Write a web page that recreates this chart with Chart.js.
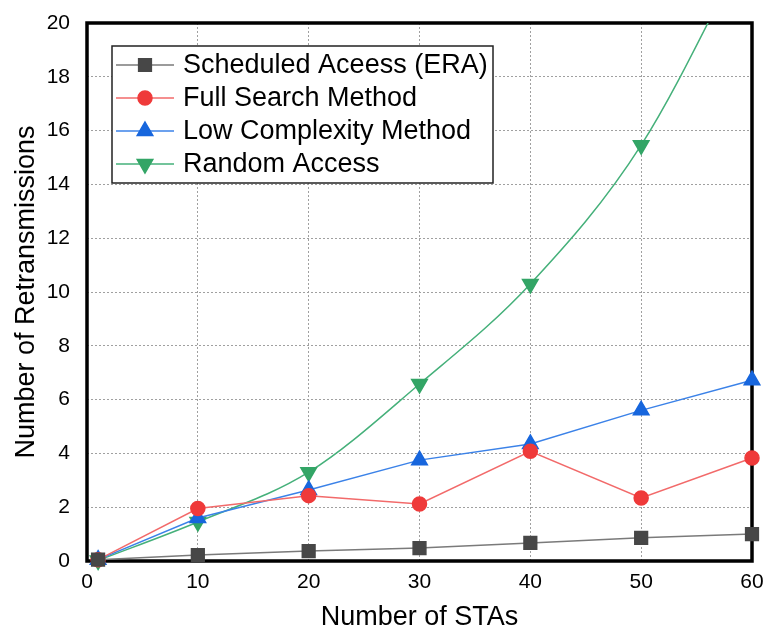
<!DOCTYPE html>
<html>
<head>
<meta charset="utf-8">
<script src="https://cdn.jsdelivr.net/npm/chart.js@4"></script>
<style>
  html, body { margin: 0; padding: 0; background: #fff; }
  #wrap { width: 767px; height: 635px; }
</style>
</head>
<body>
<div id="wrap"><canvas id="retxChart" width="767" height="635"></canvas></div>
<script>
const stas = [1, 10, 20, 30, 40, 50, 60];
const scheduled = [0.05, 0.22, 0.37, 0.48, 0.67, 0.86, 1.0];
const fullSearch = [0.05, 1.95, 2.43, 2.12, 4.08, 2.34, 3.83];
const lowComplexity = [0.05, 1.6, 2.64, 3.75, 4.35, 5.6, 6.72];
const randomAccess = [0.02, 1.45, 3.3, 6.58, 10.3, 15.46, 23.2];
const xTicks = [0, 10, 20, 30, 40, 50, 60];
const yTicks = [0, 2, 4, 6, 8, 10, 12, 14, 16, 18, 20];

const FONT = "'Liberation Sans', Arial, sans-serif";

function pts(values) {
    return stas.map((x, i) => ({ x: x, y: values[i] }));
}

const clipBox = { left: 14, right: 14, top: 0, bottom: 14 };

// border box drawn under the marks, legend drawn on top
const framePlugin = {
    id: "frame",
    beforeDatasetsDraw(chart) {
        const a = chart.chartArea;
        const ctx = chart.ctx;
        ctx.save();
        ctx.strokeStyle = "#000";
        ctx.lineWidth = 3.5;
        ctx.strokeRect(a.left, a.top, a.right - a.left, a.bottom - a.top);
        ctx.restore();
    },
    afterDraw(chart) {
        const ctx = chart.ctx;
        const bx = 112, by = 46, bw = 381, bh = 137;
        ctx.save();
        ctx.fillStyle = "#fff";
        ctx.fillRect(bx, by, bw, bh);
        ctx.strokeStyle = "#222";
        ctx.lineWidth = 1.5;
        ctx.strokeRect(bx, by, bw, bh);
        ctx.font = "27px " + FONT;
        ctx.textBaseline = "middle";
        chart.data.datasets.forEach((ds, i) => {
            const y = by + 19 + i * 33;
            ctx.strokeStyle = ds.borderColor;
            ctx.lineWidth = 1.5;
            ctx.beginPath();
            ctx.moveTo(116, y);
            ctx.lineTo(174, y);
            ctx.stroke();
            ctx.fillStyle = ds.pointBackgroundColor;
            ctx.strokeStyle = ds.pointBackgroundColor;
            Chart.helpers.drawPoint(ctx, {
                pointStyle: ds.pointStyle,
                radius: ds.pointRadius,
                rotation: ds.pointRotation || 0,
                borderWidth: 1
            }, 145, y);
            ctx.fillStyle = "#000";
            ctx.fillText(ds.label, 183, y + 1);
        });
        ctx.restore();
    }
};

new Chart(document.getElementById("retxChart"), {
    type: "line",
    data: {
        datasets: [
            {
                label: "Scheduled Aceess (ERA)",
                data: pts(scheduled),
                borderColor: "#7a7a7a",
                borderWidth: 1.5,
                pointStyle: "rect",
                pointRadius: 9,
                pointBackgroundColor: "#474747",
                pointBorderColor: "#474747",
                clip: clipBox
            },
            {
                label: "Full Search Method",
                data: pts(fullSearch),
                borderColor: "#f26a6a",
                borderWidth: 1.5,
                pointStyle: "circle",
                pointRadius: 7,
                pointBackgroundColor: "#ef3a3a",
                pointBorderColor: "#ef3a3a",
                clip: clipBox
            },
            {
                label: "Low Complexity Method",
                data: pts(lowComplexity),
                borderColor: "#3b82e8",
                borderWidth: 1.5,
                pointStyle: "triangle",
                pointRadius: 9,
                pointBackgroundColor: "#1766dd",
                pointBorderColor: "#1766dd",
                clip: clipBox
            },
            {
                label: "Random Access",
                data: pts(randomAccess),
                borderColor: "#45b07a",
                borderWidth: 1.5,
                pointStyle: "triangle",
                pointRotation: 180,
                pointRadius: 9,
                pointBackgroundColor: "#33a566",
                pointBorderColor: "#33a566",
                cubicInterpolationMode: "monotone",
                clip: clipBox
            }
        ]
    },
    options: {
        responsive: false,
        animation: false,
        layout: { padding: { top: 23, right: 15, left: 0, bottom: 0 } },
        plugins: {
            legend: { display: false },
            tooltip: { enabled: false }
        },
        scales: {
            x: {
                type: "linear",
                min: 0,
                max: 60,
                afterBuildTicks: axis => { axis.ticks = xTicks.map(v => ({ value: v })); },
                afterFit: scale => {
                    scale.height = 74;
                    scale.paddingLeft = 0;
                    scale.paddingRight = 0;
                },
                ticks: { color: "#000", font: { family: FONT, size: 21 }, padding: 9, maxRotation: 0 },
                grid: { color: "#a0a0a0", lineWidth: 1, drawTicks: false },
                border: { display: false, dash: [2, 2] },
                title: {
                    display: true,
                    text: "Number of STAs",
                    color: "#000",
                    font: { family: FONT, size: 27 },
                    padding: { top: 0, bottom: 1 }
                }
            },
            y: {
                min: 0,
                max: 20,
                afterBuildTicks: axis => { axis.ticks = yTicks.map(v => ({ value: v })); },
                afterFit: scale => {
                    scale.width = 87;
                    scale.paddingTop = 0;
                    scale.paddingBottom = 0;
                },
                ticks: { color: "#000", font: { family: FONT, size: 21 }, padding: 17 },
                grid: { color: "#a0a0a0", lineWidth: 1, drawTicks: false },
                border: { display: false, dash: [2, 2] },
                title: {
                    display: true,
                    text: "Number of Retransmissions",
                    color: "#000",
                    font: { family: FONT, size: 27 },
                    padding: { top: 10, bottom: 0 }
                }
            }
        }
    },
    plugins: [framePlugin]
});
</script>
</body>
</html>
